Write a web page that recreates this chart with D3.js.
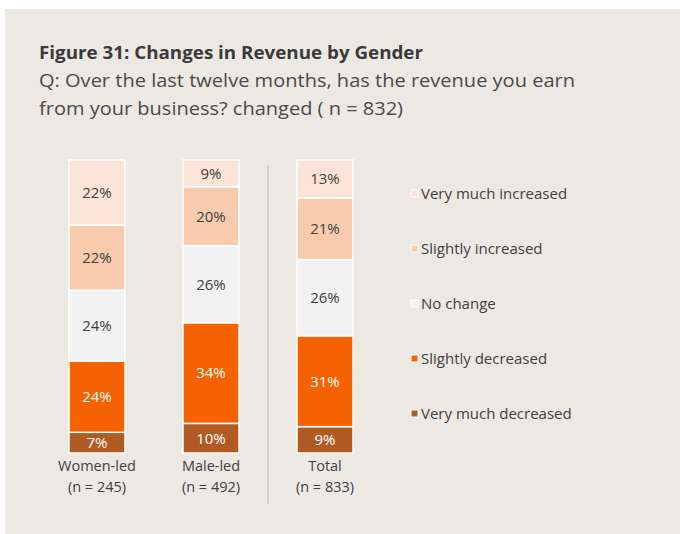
<!DOCTYPE html>
<html>
<head>
<meta charset="utf-8">
<script src="https://cdn.jsdelivr.net/npm/d3@7"></script>
<style>
  body { margin: 0; background: #fff; }
  svg { display: block; font-family: "Open Sans", "Noto Sans", sans-serif; }
</style>
</head>
<body>
<div id="chart"></div>
<script>
const categories = ["Women-led", "Male-led", "Total"];
const nLabels = ["(n = 245)", "(n = 492)", "(n = 833)"];
const responses = ["Very much decreased", "Slightly decreased", "No change", "Slightly increased", "Very much increased"];
const veryMuchDecreased = [7, 10, 9];
const slightlyDecreased = [24, 34, 31];
const noChange = [24, 26, 26];
const slightlyIncreased = [22, 20, 21];
const veryMuchIncreased = [22, 9, 13];

const colors = ["#b15b24", "#f76200", "#f2f2f2", "#f8cbad", "#fbe4d7"];
const labelColors = ["#ffffff", "#ffffff", "#404040", "#404040", "#404040"];

const seriesValues = [veryMuchDecreased, slightlyDecreased, noChange, slightlyIncreased, veryMuchIncreased];

const rows = categories.map((c, i) => {
  const row = { category: c };
  responses.forEach((r, j) => (row[r] = seriesValues[j][i]));
  return row;
});

const width = 680, height = 534;
const svg = d3.select("#chart").append("svg").attr("width", width).attr("height", height);

// panel background
svg.append("rect").attr("x", 5).attr("y", 9).attr("width", width - 5).attr("height", height - 9).attr("fill", "#ece9e2");

// titles
svg.append("text").attr("x", 39).attr("y", 59)
  .attr("font-size", 18).attr("font-weight", "bold").attr("fill", "#3a3a3a")
  .attr("textLength", 384).attr("lengthAdjust", "spacingAndGlyphs")
  .text("Figure 31: Changes in Revenue by Gender");
svg.append("text").attr("x", 39).attr("y", 87)
  .attr("font-size", 19).attr("fill", "#4a4a4a")
  .attr("textLength", 536).attr("lengthAdjust", "spacingAndGlyphs")
  .text("Q: Over the last twelve months, has the revenue you earn");
svg.append("text").attr("x", 39).attr("y", 115)
  .attr("font-size", 19).attr("fill", "#4a4a4a")
  .attr("textLength", 364).attr("lengthAdjust", "spacingAndGlyphs")
  .text("from your business? changed ( n = 832)");

const x = d3.scalePoint().domain(categories).range([97, 325]);
const y = d3.scaleLinear().domain([0, 1]).range([453, 160]);
const barW = 56;

const stacked = d3.stack().keys(responses).offset(d3.stackOffsetExpand)(rows);

// faint shadow behind each bar
svg.append("g").selectAll("rect").data(categories).join("rect")
  .attr("x", (d) => x(d) - barW / 2 + 1)
  .attr("y", y(1) + 1)
  .attr("width", barW)
  .attr("height", y(0) - y(1))
  .attr("fill", "#d8d4cc");

const layers = svg.append("g").selectAll("g").data(stacked).join("g")
  .attr("fill", (d, i) => colors[i]);

layers.selectAll("rect").data((d) => d).join("rect")
  .attr("x", (d) => x(d.data.category) - barW / 2)
  .attr("y", (d) => y(d[1]))
  .attr("width", barW)
  .attr("height", (d) => y(d[0]) - y(d[1]))
  .attr("stroke", "#ffffff")
  .attr("stroke-width", 1.5);

// value labels
stacked.forEach((layer, i) => {
  svg.append("g").selectAll("text").data(layer).join("text")
    .attr("x", (d) => x(d.data.category))
    .attr("y", (d) => (y(d[0]) + y(d[1])) / 2)
    .attr("dy", "0.36em")
    .attr("text-anchor", "middle")
    .attr("font-size", 15)
    .attr("fill", labelColors[i])
    .text((d) => d.data[layer.key] + "%");
});

// category labels
const labels = svg.append("g").selectAll("g").data(categories).join("g");
labels.append("text")
  .attr("x", (d) => x(d)).attr("y", 471)
  .attr("text-anchor", "middle").attr("font-size", 14.5).attr("fill", "#404040")
  .text((d) => d);
labels.append("text")
  .attr("x", (d) => x(d)).attr("y", 492)
  .attr("text-anchor", "middle").attr("font-size", 14.5).attr("fill", "#404040")
  .text((d, i) => nLabels[i]);

// separator before Total
const sepX = (x(categories[1]) + x(categories[2])) / 2;
svg.append("line")
  .attr("x1", sepX).attr("x2", sepX).attr("y1", 165).attr("y2", 504)
  .attr("stroke", "#cbc7c0").attr("stroke-width", 1.5);

// legend
const legendOrder = responses.slice().reverse();
const ly = d3.scalePoint().domain(legendOrder).range([194, 414]);
const legend = svg.append("g").selectAll("g").data(legendOrder).join("g")
  .attr("transform", (d) => `translate(411,${ly(d)})`);
legend.append("rect")
  .attr("x", 0).attr("y", -4).attr("width", 7).attr("height", 7)
  .attr("fill", (d) => colors[responses.indexOf(d)])
  .attr("stroke", "#ffffff").attr("stroke-width", 1);
legend.append("text")
  .attr("x", 10).attr("dy", "0.36em")
  .attr("font-size", 15).attr("fill", "#404040")
  .text((d) => d);
</script>
</body>
</html>
